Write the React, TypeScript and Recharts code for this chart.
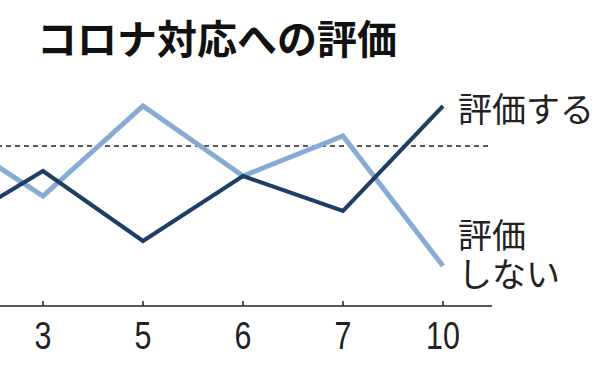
import React from 'react';
import { LineChart, Line, XAxis, YAxis, ReferenceLine } from 'recharts';

// survey months (first one is cut off at the left edge in the original)
const months = ['2', '3', '5', '6', '7', '10'];
const approve = [33, 45, 31, 44, 37, 58];     // 評価する
const disapprove = [53, 40, 58, 44, 52, 26];  // 評価しない
const refValue = 50;

const NAVY = '#1c3f66';
const LIGHT = '#86acd6';
const CJK = '"Noto Sans CJK JP", "Noto Sans", sans-serif';

const data = months.map((m, i) => ({ month: m, approve: approve[i], disapprove: disapprove[i] }));
const last = months.length - 1;

function AxisTick({ x, y, payload }: { x?: number; y?: number; payload?: { value: string; index?: number } }) {
  if (x == null || y == null || !payload) return null;
  const hidden = payload.index === 0; // sits outside the visible frame
  return (
    <g>
      <line x1={x} x2={x} y1={y - 5} y2={y} stroke="#222" strokeWidth={1.5} />
      {!hidden && (
        <text
          transform={`translate(${x},${y + 30}) scale(0.8,1)`}
          textAnchor="middle"
          dominantBaseline="central"
          fontFamily='"Liberation Sans", Arial, sans-serif'
          fontSize={38}
          fill="#222"
        >
          {payload.value}
        </text>
      )}
    </g>
  );
}

function approveLabel(p: any) {
  if (p.index !== last) return null;
  return (
    <text x={p.x + 15} y={p.y + 1} dominantBaseline="central" fontFamily={CJK} fontSize={34} fill="#222">
      評価する
    </text>
  );
}

function disapproveLabel(p: any) {
  if (p.index !== last) return null;
  return (
    <text x={p.x + 15} y={p.y - 33} dominantBaseline="central" fontFamily={CJK} fontSize={34} fill="#222">
      <tspan x={p.x + 15}>評価</tspan>
      <tspan x={p.x + 15} dy={39}>しない</tspan>
    </text>
  );
}

export default function App() {
  return (
    <div style={{ position: 'absolute', left: 0, top: 0, width: 600, height: 375, overflow: 'hidden', background: '#fff' }}>
      <div
        style={{
          position: 'absolute',
          left: 37,
          top: 13,
          fontFamily: CJK,
          fontWeight: 700,
          fontSize: 40,
          lineHeight: '48px',
          color: '#111',
          whiteSpace: 'nowrap',
        }}
      >
        コロナ対応への評価
      </div>
      <LineChart
        width={657}
        height={375}
        data={data}
        margin={{ top: 46, right: 108, bottom: 0, left: 0 }}
        style={{ position: 'absolute', left: -57, top: 0 }}
      >
        <XAxis
          dataKey="month"
          height={69}
          padding={{ left: 0, right: 49 }}
          axisLine={{ stroke: '#222', strokeWidth: 1.5 }}
          tickLine={false}
          tickSize={0}
          tickMargin={0}
          tick={<AxisTick />}
          interval={0}
        />
        <YAxis hide domain={[18, 70]} />
        <ReferenceLine y={refValue} stroke="#222" strokeWidth={1.5} strokeDasharray="5 4" />
        <Line
          dataKey="disapprove"
          stroke={LIGHT}
          strokeWidth={5}
          dot={false}
          strokeLinejoin="miter"
          isAnimationActive={false}
          label={disapproveLabel}
        />
        <Line
          dataKey="approve"
          stroke={NAVY}
          strokeWidth={4}
          dot={false}
          strokeLinejoin="miter"
          isAnimationActive={false}
          label={approveLabel}
        />
      </LineChart>
    </div>
  );
}
